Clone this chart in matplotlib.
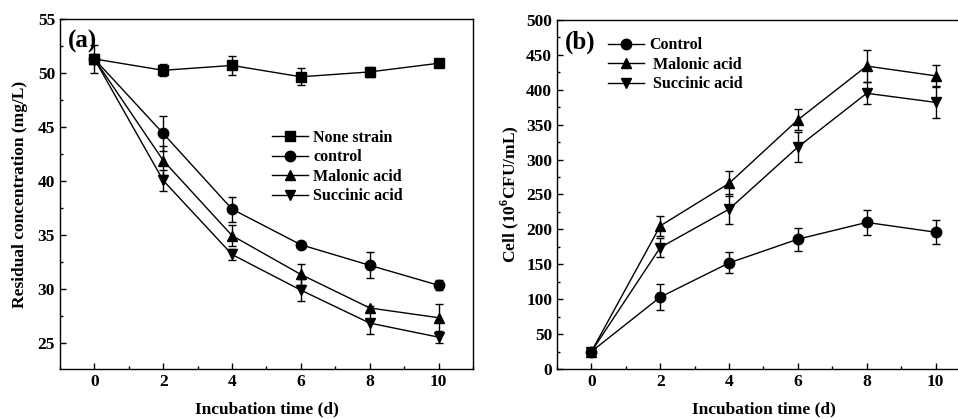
import numpy as np
import matplotlib.pyplot as plt
from matplotlib.ticker import MultipleLocator

plt.rcParams['font.family'] = 'Liberation Serif'
plt.rcParams['font.weight'] = 'bold'
plt.rcParams['font.size'] = 12.5
plt.rcParams['mathtext.fontset'] = 'custom'
plt.rcParams['mathtext.bf'] = 'Liberation Serif:bold'
plt.rcParams['mathtext.rm'] = 'Liberation Serif:bold'

# Incubation days
days = [0, 2, 4, 6, 8, 10]

# Panel (a): residual concentration (mg/L)
none_strain = [51.3, 50.25, 50.7, 49.65, 50.1, 50.9]
none_err = [1.3, 0.55, 0.85, 0.8, 0.5, 0.2]
control_a = [51.3, 44.4, 37.4, 34.1, 32.2, 30.35]
control_a_err = [0.2, 1.65, 1.15, 0.2, 1.2, 0.45]
malonic_a = [51.3, 41.9, 34.95, 31.35, 28.25, 27.35]
malonic_a_err = [0.2, 1.3, 1.0, 1.0, 0.2, 1.25]
succinic_a = [51.3, 40.05, 33.2, 29.9, 26.85, 25.55]
succinic_a_err = [0.2, 1.0, 0.5, 1.0, 1.0, 0.5]

# Panel (b): cell counts (10^6 CFU/mL)
control_b = [25, 103, 152, 186, 210, 196]
control_b_err = [5, 19, 15, 16.5, 18.5, 17.5]
malonic_b = [25, 205, 266, 357, 434, 420]
malonic_b_err = [5, 14, 18, 15, 23, 15]
succinic_b = [25, 174, 229, 318, 395, 382]
succinic_b_err = [5, 14, 21, 22, 16, 22]

fig = plt.figure(figsize=(9.58, 4.19), dpi=100)
ax1 = fig.add_axes([0.0626, 0.1193, 0.4311, 0.8354])
ax2 = fig.add_axes([0.5814, 0.1193, 0.4311, 0.8330])

style = dict(color='black', lw=1.0, ms=7.5, capsize=3, elinewidth=1.0, capthick=1.0)

h1 = [
    ax1.errorbar(days, none_strain, yerr=none_err, marker='s', **style)[0],
    ax1.errorbar(days, control_a, yerr=control_a_err, marker='o', **style)[0],
    ax1.errorbar(days, malonic_a, yerr=malonic_a_err, marker='^', **style)[0],
    ax1.errorbar(days, succinic_a, yerr=succinic_a_err, marker='v', **style)[0],
]
l1 = ['None strain', 'control', 'Malonic acid', 'Succinic acid']

h2 = [
    ax2.errorbar(days, control_b, yerr=control_b_err, marker='o', **style)[0],
    ax2.errorbar(days, malonic_b, yerr=malonic_b_err, marker='^', **style)[0],
    ax2.errorbar(days, succinic_b, yerr=succinic_b_err, marker='v', **style)[0],
]
l2 = ['Control', ' Malonic acid', ' Succinic acid']

ax1.set_xlim(-1, 11)
ax1.set_ylim(22.6, 55)
ax1.yaxis.set_major_locator(MultipleLocator(5))
ax1.yaxis.set_minor_locator(MultipleLocator(2.5))
ax1.set_ylabel('Residual concentration (mg/L)', fontweight='bold', labelpad=7)

ax2.set_xlim(-1, 11)
ax2.set_ylim(0, 500)
ax2.yaxis.set_major_locator(MultipleLocator(50))
ax2.yaxis.set_minor_locator(MultipleLocator(25))
ax2.set_ylabel('Cell (10$^{\\mathbf{6}}$CFU/mL)', fontweight='bold', labelpad=4)

for ax in (ax1, ax2):
    ax.xaxis.set_major_locator(MultipleLocator(2))
    ax.xaxis.set_minor_locator(MultipleLocator(1))
    ax.tick_params(which='both', direction='in', top=False, right=False)
    ax.tick_params(which='major', length=4, width=1)
    ax.tick_params(which='minor', length=2.5, width=1)
    ax.set_xlabel('Incubation time (d)', fontweight='bold', labelpad=8)
    for s in ax.spines.values():
        s.set_linewidth(1.0)

ax1.text(0.02, 0.97, '(a)', transform=ax1.transAxes, fontsize=18,
         fontweight='bold', va='top', ha='left')
ax2.text(0.02, 0.97, '(b)', transform=ax2.transAxes, fontsize=18,
         fontweight='bold', va='top', ha='left')

leg_kw = dict(frameon=False, handlelength=2.3, handletextpad=0.3,
              labelspacing=0.22, prop={'weight': 'bold', 'size': 11.5})
ax1.legend(h1, l1, loc='upper left', bbox_to_anchor=(0.478, 0.725), **leg_kw)
ax2.legend(h2, l2, loc='upper left', bbox_to_anchor=(0.088, 0.992), **leg_kw)

fig.savefig('out.png', dpi=100)
